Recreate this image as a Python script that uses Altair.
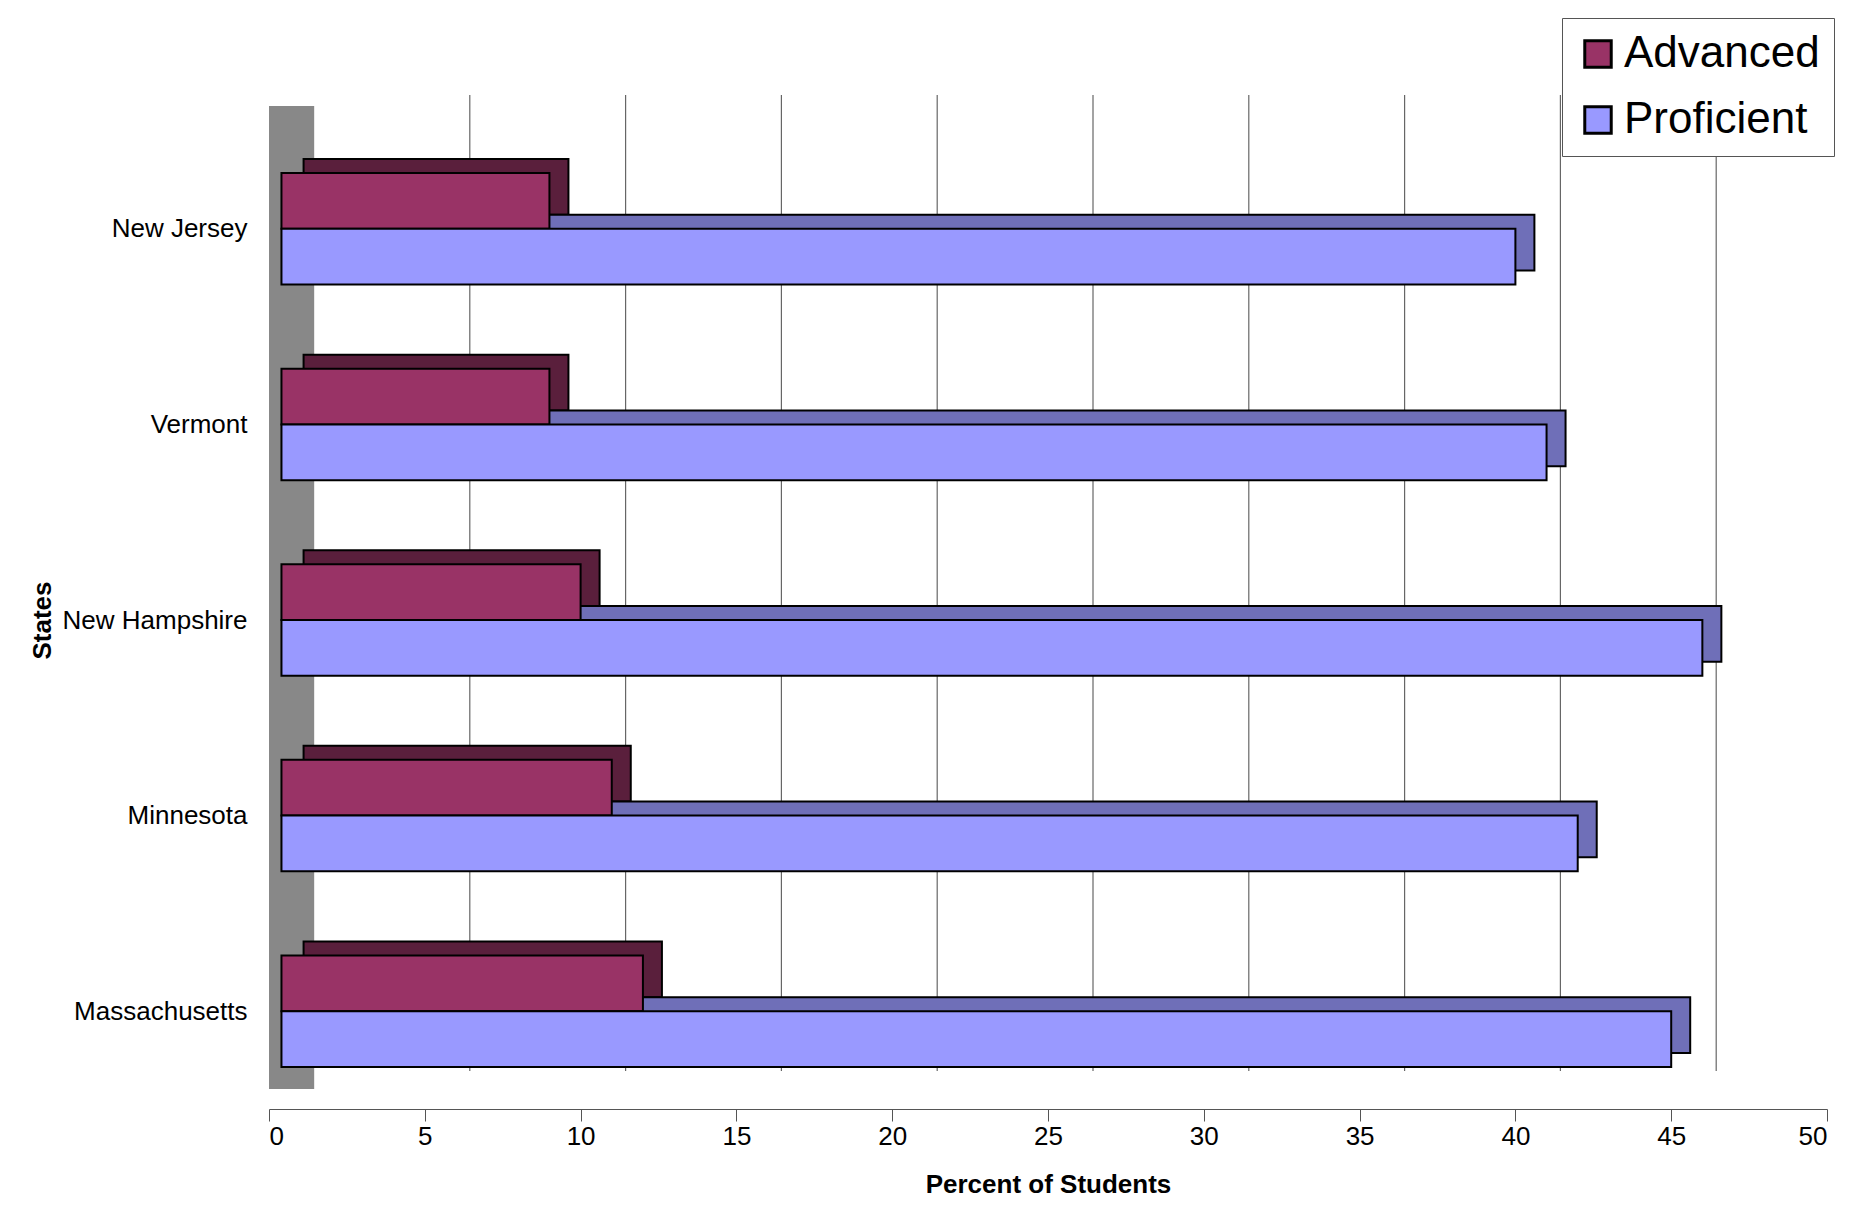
import altair as alt
import pandas as pd

states = ["New Jersey", "Vermont", "New Hampshire", "Minnesota", "Massachusetts"]
advanced = [9, 9, 10, 11, 12]
proficient = [40, 41, 46, 42, 45]
ticks = [0, 5, 10, 15, 20, 25, 30, 35, 40, 45, 50]

BH = 0.285  # bar thickness in band units
rows = []
for i, (s, a, p) in enumerate(zip(states, advanced, proficient)):
    rows.append({"state": s, "series": "Advanced", "value": a, "y0": i + 0.5 - BH, "y1": i + 0.5})
    rows.append({"state": s, "series": "Proficient", "value": p, "y0": i + 0.5, "y1": i + 0.5 + BH})
df = pd.DataFrame(rows)

font = "Liberation Sans"
W, H = 1558, 978
label_expr = "[" + ",".join(f"'{s}'" for s in states) + "][floor(datum.value)]"
y_scale = alt.Scale(domain=[0, 5], reverse=True, nice=False)
y_enc = alt.Y("y0:Q", scale=y_scale, title="States",
              axis=alt.Axis(values=[i + 0.5 for i in range(5)], labelExpr=label_expr,
                            labelFontSize=26, labelFont=font, labelColor="black",
                            titleFontSize=26, titleFont=font, titleFontWeight="bold",
                            titlePadding=14, domain=False, ticks=False, grid=False,
                            labelPadding=22, labelLimit=400))
x_enc = alt.X("value:Q", scale=alt.Scale(domain=[0, 50], nice=False),
              title="Percent of Students",
              axis=alt.Axis(values=ticks, grid=False, labelFontSize=26, labelFont=font,
                            labelColor="black", titleFontSize=26, titleFont=font,
                            titleFontWeight="bold", titlePadding=22, domainColor="#555",
                            tickColor="#555", tickSize=12))

wall = alt.Chart(pd.DataFrame({"a": [0], "b": [1.45]})).mark_rect(color="#888").encode(
    x="a:Q", x2="b:Q", y=alt.value(-25), y2=alt.value(H - 20))

grid = alt.Chart(pd.DataFrame({"t": ticks[1:]})).mark_rule(
    color="#666", strokeWidth=1.2, xOffset=45).encode(
    x=alt.X("t:Q", scale=alt.Scale(domain=[0, 50], nice=False)),
    y=alt.value(-36), y2=alt.value(H - 38))

back = alt.Chart(df).mark_bar(stroke="black", strokeWidth=2, xOffset=19, x2Offset=19,
                              yOffset=-14, y2Offset=-14).encode(
    x=x_enc, x2=alt.datum(0.5), y=y_enc, y2="y1:Q",
    color=alt.Color("series:N", scale=alt.Scale(domain=["Advanced", "Proficient"],
                                                 range=["#5a1f3c", "#6f6fb8"]), legend=None))

front = alt.Chart(df).mark_bar(stroke="black", strokeWidth=2).encode(
    x=x_enc, x2=alt.datum(0.4), y=y_enc, y2="y1:Q",
    color=alt.Color("series:N", title=None,
                    scale=alt.Scale(domain=["Advanced", "Proficient"],
                                    range=["#993366", "#9999ff"]),
                    legend=alt.Legend(orient="none", legendX=W - 265, legendY=-113,
                                      labelFontSize=44, labelFont=font, labelColor="black",
                                      symbolType="square", symbolSize=700,
                                      symbolStrokeColor="black", symbolStrokeWidth=3,
                                      rowPadding=22, padding=14, strokeColor="#555",
                                      fillColor="white", labelLimit=400)))

chart = alt.layer(wall, grid, back, front).properties(
    width=W, height=H, autosize=alt.AutoSizeParams(type="none"),
    padding={"left": 261, "top": 123, "right": 20, "bottom": 100}
).configure_view(stroke=None).resolve_scale(color="independent")

chart.save("out.html", embed_options={"renderer": "svg", "actions": False})
